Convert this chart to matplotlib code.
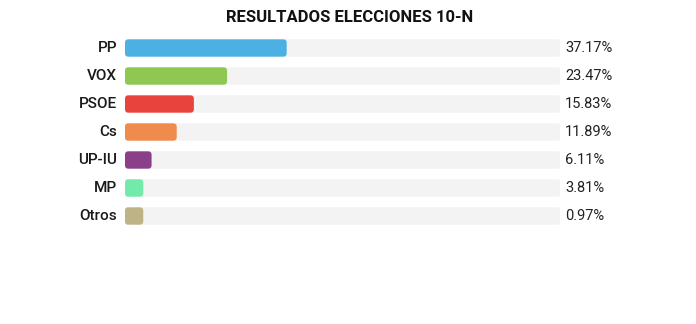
import matplotlib
matplotlib.use("Agg")
import matplotlib.pyplot as plt
from matplotlib.patches import FancyBboxPatch

parties = ['PP', 'VOX', 'PSOE', 'Cs', 'UP-IU', 'MP', 'Otros']
votes = [37.17, 23.47, 15.83, 11.89, 6.11, 3.81, 0.97]
colors = ['#4cb0e2', '#8ec853', '#e8433d', '#ef8b4d', '#8a3f88', '#72eaa9', '#bdb386']

plt.rcParams['font.family'] = ['Roboto', 'DejaVu Sans']

fig = plt.figure(figsize=(6.96, 3.24), dpi=100)
ax = fig.add_axes([125 / 696, 1 - 230 / 324, 435 / 696, 196 / 324])
ax.set_xlim(0, 100)
ax.set_ylim(len(parties) - 0.5, -0.5)
ax.axis('off')

h = 0.62
asp = 0.15  # y/x units per pixel ratio for the rounded corners
for i, (p, v, c) in enumerate(zip(parties, votes, colors)):
    # grey track
    ax.add_patch(FancyBboxPatch((0, i - h / 2), 100, h,
                                boxstyle="round,pad=0,rounding_size=0.5",
                                mutation_aspect=asp, fc='#f3f3f3', ec='none'))
    w = max(v, 4.2)  # small shares still get a visible pill
    ax.add_patch(FancyBboxPatch((0, i - h / 2), w, h,
                                boxstyle="round,pad=0,rounding_size=0.8",
                                mutation_aspect=asp, fc=c, ec='none'))
    ax.text(-1.8, i, p, ha='right', va='center', fontsize=11,
            color='#1a1a1a', fontweight='medium')
    ax.text(101.2, i, f"{v:.2f}%", ha='left', va='center', fontsize=10.5,
            color='#222222')

fig.text(350 / 696, 1 - 18 / 324, 'RESULTADOS ELECCIONES 10-N', ha='center',
         va='center', fontsize=12, fontweight='bold', color='#111111')

fig.savefig('out.png', dpi=100, facecolor='white')
